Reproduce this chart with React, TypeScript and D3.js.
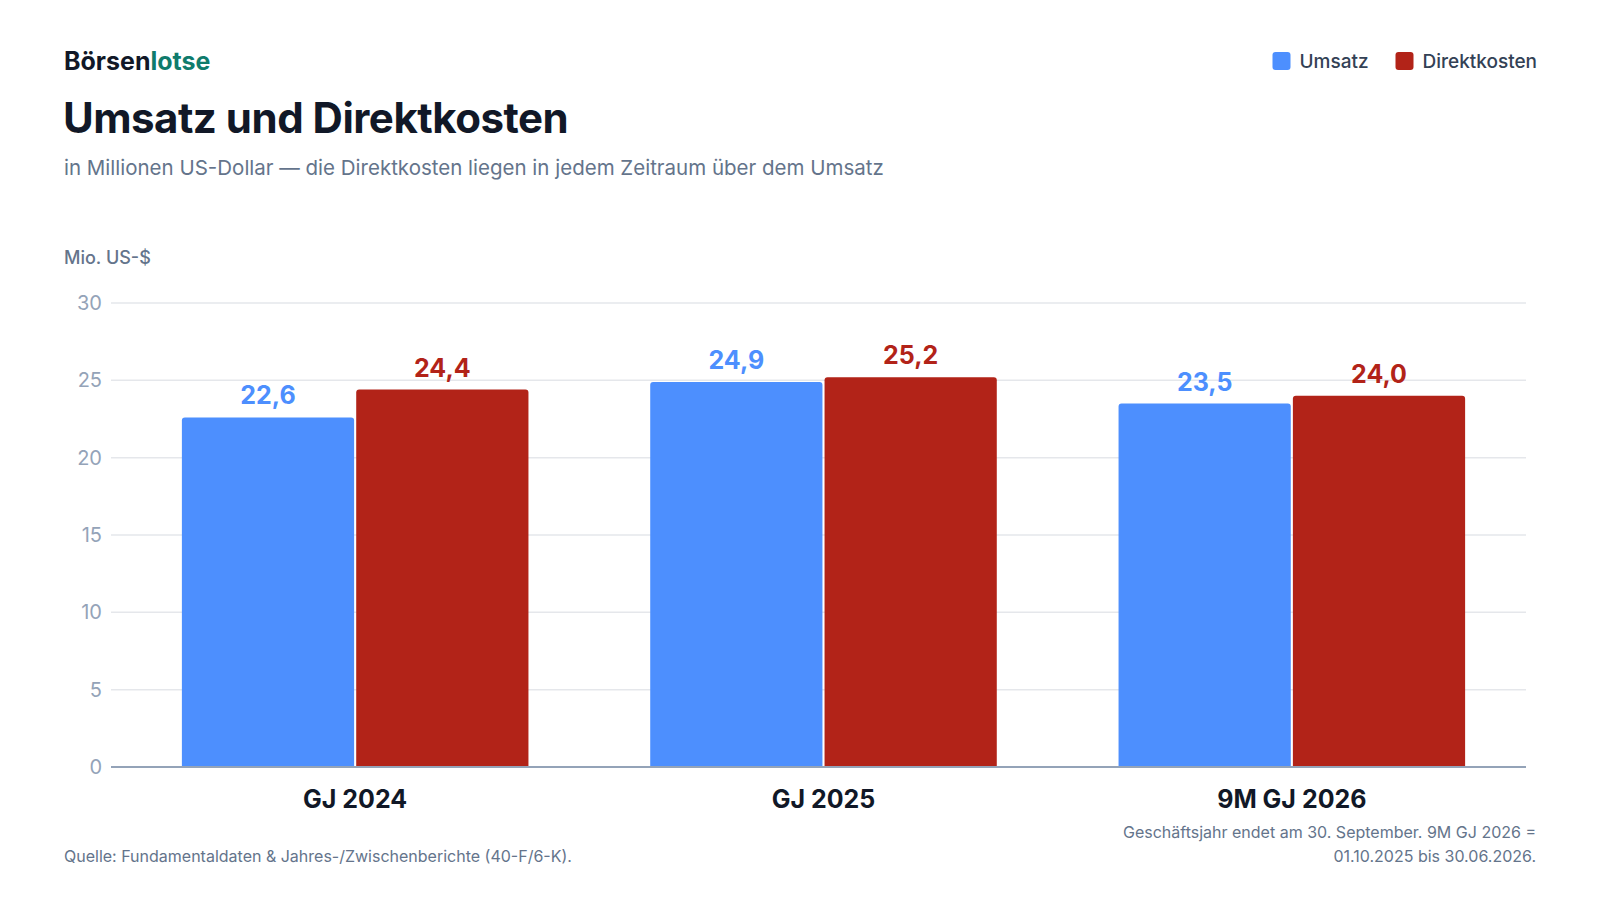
import { useEffect, useRef } from "react";
import * as d3 from "d3";

const periods = ["GJ 2024", "GJ 2025", "9M GJ 2026"];
const seriesNames = ["Umsatz", "Direktkosten"];
const umsatz = [22.6, 24.9, 23.5];
const direktkosten = [24.4, 25.2, 24.0];
const yTicks = [0, 5, 10, 15, 20, 25, 30];

const colors: Record<string, string> = { Umsatz: "#4d8ffe", Direktkosten: "#b22318" };
const FONT = "Inter, 'Noto Sans', sans-serif";

export default function App() {
  const ref = useRef<SVGSVGElement | null>(null);

  useEffect(() => {
    if (!ref.current) return;
    const width = 1600;
    const height = 900;

    const svg = d3.select(ref.current);
    svg.selectAll("*").remove();
    svg.attr("viewBox", `0 0 ${width} ${height}`).attr("font-family", FONT);

    svg.append("rect").attr("width", width).attr("height", height).attr("fill", "#fff");

    // header
    const logo = svg.append("text").attr("x", 64).attr("y", 70).attr("font-size", 25).attr("font-weight", 700).attr("letter-spacing", 0);
    logo.append("tspan").attr("fill", "#111827").text("Börsen");
    logo.append("tspan").attr("fill", "#0f7b6c").text("lotse");

    svg
      .append("text")
      .attr("x", 63)
      .attr("y", 133)
      .attr("font-size", 42)
      .attr("font-weight", 700)
      .attr("letter-spacing", -0.5)
      .attr("fill", "#111827")
      .text("Umsatz und Direktkosten");

    svg
      .append("text")
      .attr("x", 64)
      .attr("y", 175)
      .attr("font-size", 20.5)
      .attr("fill", "#64748b")
      .text("in Millionen US-Dollar — die Direktkosten liegen in jedem Zeitraum über dem Umsatz");

    // legend (right aligned)
    const legend = svg.append("g");
    const legendItems = [
      { name: "Direktkosten", x: 1395.5 },
      { name: "Umsatz", x: 1272.5 },
    ];
    legendItems.forEach((it) => {
      legend
        .append("rect")
        .attr("x", it.x)
        .attr("y", 52)
        .attr("width", 18)
        .attr("height", 18)
        .attr("rx", 3)
        .attr("fill", colors[it.name]);
      legend
        .append("text")
        .attr("x", it.x + 27)
        .attr("y", 68)
        .attr("font-size", 19)
        .attr("font-weight", 500)
        .attr("fill", "#334155")
        .text(it.name);
    });

    svg
      .append("text")
      .attr("x", 64)
      .attr("y", 264)
      .attr("font-size", 18)
      .attr("font-weight", 500)
      .attr("fill", "#64748b")
      .text("Mio. US-$");

    // scales
    const gridLeft = 111;
    const gridRight = 1526;
    const y = d3.scaleLinear().domain([0, 30]).range([767, 303]);
    const x0 = d3.scaleBand().domain(periods).range([121, 1526]).paddingInner(0.26).paddingOuter(0.13);
    const x1 = d3.scaleBand().domain(seriesNames).range([0, x0.bandwidth()]).paddingInner(0.012);

    // grid
    svg
      .append("g")
      .selectAll("line")
      .data(yTicks.filter((t) => t > 0))
      .join("line")
      .attr("x1", gridLeft)
      .attr("x2", gridRight)
      .attr("y1", (d) => y(d))
      .attr("y2", (d) => y(d))
      .attr("stroke", "#e5e7eb")
      .attr("stroke-width", 1.5);

    svg
      .append("g")
      .selectAll("text")
      .data(yTicks)
      .join("text")
      .attr("x", 102)
      .attr("y", (d) => y(d) + 7)
      .attr("text-anchor", "end")
      .attr("font-size", 20)
      .attr("fill", "#94a3b8")
      .text((d) => String(d));

    // bars
    const rows = periods.map((p, i) => ({
      period: p,
      values: [
        { key: "Umsatz", value: umsatz[i] },
        { key: "Direktkosten", value: direktkosten[i] },
      ],
    }));

    const r = 3;
    const barPath = (x: number, w: number, top: number, bottom: number) =>
      `M${x},${bottom}V${top + r}Q${x},${top} ${x + r},${top}H${x + w - r}Q${x + w},${top} ${x + w},${top + r}V${bottom}Z`;

    const groups = svg
      .append("g")
      .selectAll("g")
      .data(rows)
      .join("g")
      .attr("transform", (d) => `translate(${x0(d.period)},0)`);

    groups
      .selectAll("path")
      .data((d) => d.values)
      .join("path")
      .attr("d", (d) => barPath(x1(d.key)!, x1.bandwidth(), y(d.value), y(0)))
      .attr("fill", (d) => colors[d.key]);

    groups
      .selectAll("text")
      .data((d) => d.values)
      .join("text")
      .attr("x", (d) => x1(d.key)! + x1.bandwidth() / 2)
      .attr("y", (d) => y(d.value) - 13)
      .attr("text-anchor", "middle")
      .attr("font-size", 25)
      .attr("font-weight", 700)
      .attr("fill", (d) => colors[d.key])
      .text((d) => d3.format(".1f")(d.value).replace(".", ","));

    // baseline
    svg
      .append("line")
      .attr("x1", gridLeft)
      .attr("x2", gridRight)
      .attr("y1", y(0))
      .attr("y2", y(0))
      .attr("stroke", "#94a3b8")
      .attr("stroke-width", 2);

    // x labels
    svg
      .append("g")
      .selectAll("text")
      .data(periods)
      .join("text")
      .attr("x", (d) => x0(d)! + x0.bandwidth() / 2)
      .attr("y", 808)
      .attr("text-anchor", "middle")
      .attr("font-size", 25)
      .attr("font-weight", 700)
      .attr("fill", "#111827")
      .text((d) => d);

    // footer
    svg
      .append("text")
      .attr("x", 64)
      .attr("y", 862)
      .attr("font-size", 16)
      .attr("fill", "#64748b")
      .text("Quelle: Fundamentaldaten & Jahres-/Zwischenberichte (40-F/6-K).");

    const note = svg.append("text").attr("text-anchor", "end").attr("font-size", 16).attr("fill", "#64748b");
    note.append("tspan").attr("x", 1536).attr("y", 838).text("Geschäftsjahr endet am 30. September. 9M GJ 2026 =");
    note.append("tspan").attr("x", 1536).attr("y", 862).text("01.10.2025 bis 30.06.2026.");
  }, []);

  return (
    <svg
      ref={ref}
      width={1600}
      height={900}
      style={{ display: "block", margin: -8 }}
      role="img"
      aria-label="Umsatz und Direktkosten"
    />
  );
}
